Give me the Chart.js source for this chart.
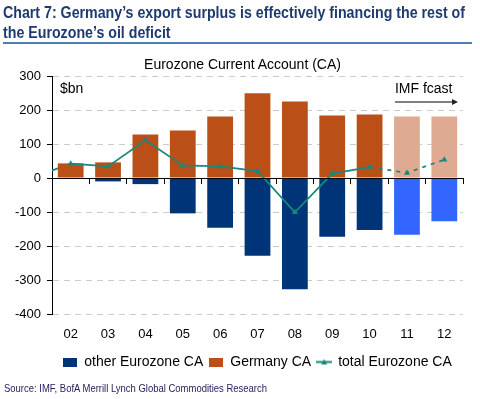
<!DOCTYPE html>
<html>
<head>
<meta charset="utf-8">
<script src="https://cdn.jsdelivr.net/npm/chart.js@4.4.0/dist/chart.umd.min.js"></script>
<style>
  html, body { margin: 0; padding: 0; background: #fff; }
  body { width: 480px; height: 399px; position: relative; overflow: hidden; }
  #chart { position: absolute; left: 0; top: 0; }
  .txt { position: absolute; white-space: nowrap; transform-origin: 0 0; }
  #title { left: 3px; top: 3px; font: bold 17px/20px "Liberation Sans", Arial, sans-serif; color: #1f3a6e; }
  #rule { position: absolute; left: 3px; top: 42px; width: 469px; border-top: 2px solid #4f7fb0; }
  #subtitle { left: 0; top: 57px; width: 485px; text-align: center; font: 14px/15px "Liberation Sans", Arial, sans-serif; color: #000; }
  #source { left: 4px; top: 382px; font: 11px/13px "Liberation Sans", Arial, sans-serif; color: #2a2060; }
</style>
</head>
<body>
<canvas id="chart" width="480" height="399"></canvas>
<div class="txt" id="title"><span id="t1">Chart 7: Germany’s export surplus is effectively financing the rest of</span><br>the Eurozone’s oil deficit</div>
<div id="rule"></div>
<div class="txt" id="subtitle">Eurozone Current Account (CA)</div>
<div class="txt" id="source"><span id="s1">Source: IMF, BofA Merrill Lynch Global Commodities Research</span></div>
<script>
// $bn
const years = ["02", "03", "04", "05", "06", "07", "08", "09", "10", "11", "12"];
const germanyCA = [43, 46, 128, 140, 181, 249, 225, 184, 187, 181, 181];
const otherCA = [-3, -10, -18, -104, -146, -229, -327, -173, -153, -167, -127];
const totalCA = [42, 34, 111, 37, 34, 20, -101, 13, 32, 15, 54];
const total01 = 2; // 2001, only the stub coming in from the left edge is visible
const forecastFrom = 9; // "11" onward is IMF forecast
const yTicks = [-400, -300, -200, -100, 0, 100, 200, 300];

const font = '"Liberation Sans", Arial, sans-serif';
const teal = "#17897a";
const darkBlue = "#003478", lightBlue = "#3366ff";
const orange = "#bb4f18", lightOrange = "#deab92";

Chart.defaults.font.family = font;

// narrow the title and source like the original condensed face
function squeeze(box, span, width) {
	const el = document.getElementById(box);
	const w = document.getElementById(span).getBoundingClientRect().width;
	el.style.transform = "scaleX(" + (width / w) + ")";
}
squeeze("title", "t1", 462);
squeeze("source", "s1", 263);

function swatch(color) {
	const c = document.createElement("canvas");
	c.width = 14; c.height = 9;
	const g = c.getContext("2d");
	g.fillStyle = color;
	g.fillRect(0, 0, 14, 9);
	return c;
}
function lineSwatch(color) {
	const c = document.createElement("canvas");
	c.width = 16; c.height = 9;
	const g = c.getContext("2d");
	g.strokeStyle = color; g.fillStyle = color; g.lineWidth = 2;
	g.beginPath(); g.moveTo(0, 4.5); g.lineTo(16, 4.5); g.stroke();
	g.beginPath(); g.moveTo(8, 1.5); g.lineTo(11, 7); g.lineTo(5, 7); g.closePath(); g.fill();
	return c;
}
const legendIcons = [swatch(darkBlue), swatch(orange), lineSwatch(teal)];

const annotations = {
	id: "annotations",
	beforeDatasetsDraw(chart) {
		// segment of the total line coming in from 2001, clipped at the axis
		const { ctx, chartArea, scales } = chart;
		const xa = scales.x.getPixelForValue(0);
		const step = scales.x.getPixelForValue(1) - xa;
		ctx.save();
		ctx.beginPath();
		ctx.rect(chartArea.left, chartArea.top, chartArea.width, chartArea.height);
		ctx.clip();
		ctx.strokeStyle = teal;
		ctx.lineWidth = 1.75;
		ctx.beginPath();
		ctx.moveTo(xa - step, scales.y.getPixelForValue(total01));
		ctx.lineTo(xa, scales.y.getPixelForValue(totalCA[0]));
		ctx.stroke();
		ctx.restore();
	},
	afterDraw(chart) {
		const { ctx, chartArea, scales } = chart;
		ctx.save();
		ctx.font = "14px " + font;
		ctx.fillStyle = "#000";
		ctx.textBaseline = "alphabetic";
		ctx.fillText("$bn", chartArea.left + 8, chartArea.top + 17);
		const x0 = scales.x.getPixelForValue(forecastFrom) - 12;
		const x1 = chartArea.right - 5;
		const ya = chartArea.top + 26;
		ctx.fillText("IMF fcast", x0, chartArea.top + 17);
		ctx.strokeStyle = "#808080";
		ctx.lineWidth = 2;
		ctx.beginPath(); ctx.moveTo(x0, ya); ctx.lineTo(x1 - 4, ya); ctx.stroke();
		ctx.fillStyle = "#222";
		ctx.beginPath(); ctx.moveTo(x1, ya); ctx.lineTo(x1 - 6, ya - 3); ctx.lineTo(x1 - 6, ya + 3); ctx.closePath(); ctx.fill();
		ctx.restore();
	},
};

const ctx = document.getElementById("chart");
const myChart = new Chart(ctx, {
	type: "bar",
	data: {
		labels: years,
		datasets: [
			{
				label: "other Eurozone CA",
				data: otherCA,
				xAxisID: "x",
				yAxisID: "y",
				backgroundColor: (c) => (c.dataIndex >= forecastFrom ? lightBlue : darkBlue),
				categoryPercentage: 0.69,
				barPercentage: 1,
				grouped: false,
				order: 1,
			},
			{
				label: "Germany CA",
				data: germanyCA,
				xAxisID: "x",
				yAxisID: "y",
				backgroundColor: (c) => (c.dataIndex >= forecastFrom ? lightOrange : orange),
				categoryPercentage: 0.69,
				barPercentage: 1,
				grouped: false,
				order: 1,
			},
			{
				type: "line",
				label: "total Eurozone CA",
				data: totalCA,
				xAxisID: "x",
				yAxisID: "y",
				stack: "total",
				borderColor: teal,
				backgroundColor: teal,
				borderWidth: 1.75,
				pointStyle: "triangle",
				pointRadius: 3.5,
				pointBorderWidth: 0,
				tension: 0,
				segment: {
					borderDash: (c) => (c.p0DataIndex >= forecastFrom - 1 ? [4, 5] : undefined),
				},
				order: 0,
			},
		],
	},
	options: {
		responsive: false,
		animation: false,
		layout: { padding: { top: 76, right: 17, bottom: 20, left: 0 } },
		plugins: {
			tooltip: { enabled: false },
			legend: {
				position: "bottom",
				fullSize: false,
				labels: {
					usePointStyle: true,
					pointStyleWidth: 14,
					boxHeight: 9,
					padding: 6,
					color: "#000",
					font: { size: 14 },
					sort: (a, b) => a.datasetIndex - b.datasetIndex,
					generateLabels: (chart) =>
						Chart.defaults.plugins.legend.labels.generateLabels(chart).map((item) => {
							item.pointStyle = legendIcons[item.datasetIndex];
							return item;
						}),
				},
			},
		},
		scales: {
			x: {
				stacked: true,
				offset: true,
				grid: { display: false, drawTicks: false },
				border: { display: false },
				ticks: { color: "#000", font: { size: 13 }, padding: 13, maxRotation: 0 },
				afterFit: (s) => { s.height = 35; },
			},
			y: {
				stacked: true,
				min: yTicks[0],
				max: yTicks[yTicks.length - 1],
				afterBuildTicks: (s) => { s.ticks = yTicks.map((v) => ({ value: v })); },
				ticks: { color: "#000", font: { size: 13 }, padding: 6 },
				grid: {
					color: (c) => (c.tick && c.tick.value === 0 ? "#000" : "#cccccc"),
					tickColor: "#000",
					tickLength: 5,
					lineWidth: 1,
				},
				border: { display: true, color: "#000", width: 1, dash: [6, 5] },
				afterFit: (s) => { s.width = 52; },
			},
			x2: {
				axis: "x",
				type: "category",
				position: { y: 0 },
				offset: true,
				grid: { offset: true, drawOnChartArea: false, tickLength: 5, color: "#000", z: 1 },
				border: { display: true, color: "#000", width: 1, z: 1 },
				ticks: { display: false },
			},
		},
	},
	plugins: [annotations],
});
</script>
</body>
</html>
